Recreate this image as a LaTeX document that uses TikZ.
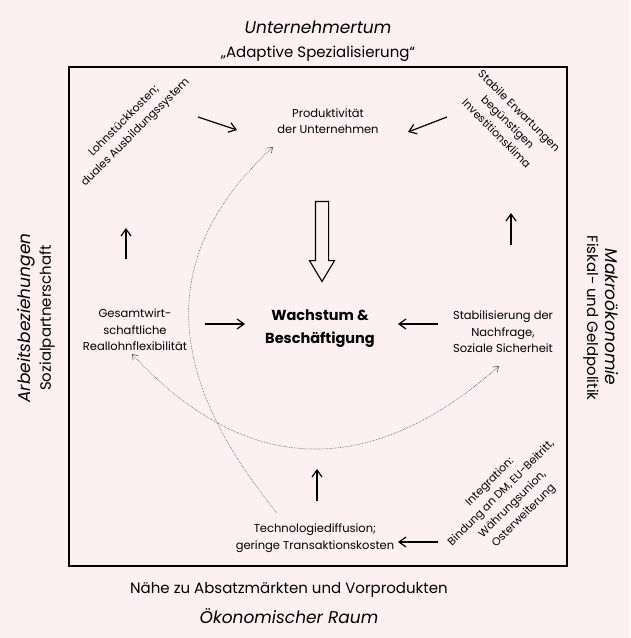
\documentclass[tikz,border=0pt]{standalone}
\usepackage{fontspec}
\setmainfont{Poppins}
\usetikzlibrary{arrows.meta, positioning, shapes.arrows, calc}
\definecolor{hintergrund}{HTML}{FCF0F3}
\definecolor{kurve}{HTML}{555555}

\begin{document}
\begin{tikzpicture}[x=1pt, y=-1pt,
        klein/.style={align=center, inner sep=1pt, font=\fontsize{11.5}{16.5}\selectfont},
        schraeg/.style={klein, font=\fontsize{11}{16}\selectfont},
        titel/.style={inner sep=0pt, font=\fontsize{17}{20}\selectfont\itshape},
        untertitel/.style={inner sep=0pt, font=\fontsize{15}{18}\selectfont},
        pfeil/.style={-{Straight Barb[length=7pt, width=10pt]}, line width=1.2pt},
        kreis/.style={kurve, densely dotted, line width=0.6pt},
        bigpfeil/.style={single arrow, draw, line width=1.1pt, shape border rotate=270,
            minimum height=80pt, inner sep=6pt, single arrow head extend=6pt,
            single arrow tip angle=62}
    ]
        \fill[hintergrund] (0,0) rectangle (630,638);
        \useasboundingbox (0,0) rectangle (630,638);
        \draw[line width=1.3pt] (69,67) rectangle (567,566);

        % Rahmenbeschriftung
        \node[titel] (oben) at (318,27) {Unternehmertum};
        \node[untertitel, below=12pt of oben] (obenb) {„Adaptive Spezialisierung“};
        \node[untertitel] (unten) at (289,590) {Nähe zu Absatzmärkten und Vorprodukten};
        \node[titel, below=11pt of unten] (untenb) {Ökonomischer Raum};
        \node[titel, rotate=90] (links) at (26,318) {Arbeitsbeziehungen};
        \node[untertitel, rotate=90] (linksb) at (47,318) {Sozialpartnerschaft};
        \node[titel, rotate=-90] (rechts) at (612,317) {Makroökonomie};
        \node[untertitel, rotate=-90] (rechtsb) at (591,318) {Fiskal- und Geldpolitik};

        % Innere Knoten
        \node[klein] (prod) at (328,121) {Produktivität\\der Unternehmen};
        \node[schraeg, rotate=45] (lohn) at (130,127) {Lohnstückkosten;\\duales Ausbildungssystem};
        \node[schraeg, rotate=-45] (stab) at (508,122) {Stabile Erwartungen\\begünstigen\\Investitionsklima};
        \node[klein] (gesamt) at (135,330) {Gesamtwirt-\\schaftliche\\Reallohnflexibilität};
        \node[klein, font=\fontsize{14.5}{23}\selectfont\bfseries] (wachs) at (320,329) {Wachstum \&\\Beschäftigung};
        \node[klein] (nachfrage) at (503,332) {Stabilisierung der\\Nachfrage,\\Soziale Sicherheit};
        \node[klein] (tech) at (315,538) {Technologiediffusion;\\geringe Transaktionskosten};
        \node[schraeg, rotate=45] (integ) at (507,499) {Integration:\\Bindung an DM, EU-Beitritt,\\Währungsunion,\\Osterweiterung};
        \node[bigpfeil] (dick) at (322,236) {};

        % Pfeile
        \draw[pfeil] ([shift={(68,-10)}]lohn.center) -- ([shift={(-91,9)}]prod.center);
        \draw[pfeil] ([shift={(-61,-5)}]stab.center) -- ([shift={(80,11)}]prod.center);
        \draw[pfeil] ([shift={(-9,-71)}]gesamt.center) -- ([shift={(-4,101)}]lohn.center);
        \draw[pfeil] ([shift={(8,-87)}]nachfrage.center) -- ([shift={(3,91)}]stab.center);
        \draw[pfeil] ([shift={(70,-6)}]gesamt.center) -- ([shift={(-75,-5)}]wachs.center);
        \draw[pfeil] ([shift={(-65,-8)}]nachfrage.center) -- ([shift={(78,-5)}]wachs.center);
        \draw[pfeil] ([shift={(2,-37)}]tech.center) -- ([shift={(-3,140)}]wachs.center);
        \draw[pfeil] ([shift={(-69,43)}]integ.center) -- ([shift={(83,4)}]tech.center);

        % gepunktete Rueckkopplungen
        \draw[kreis, {Straight Barb[length=5pt, width=7pt]}-{Straight Barb[length=5pt, width=7pt]}]
            ([shift={(-3,24)}]gesamt.center) .. controls +(125,135) and +(-115,102) .. ([shift={(-4,34)}]nachfrage.center);
        \draw[kreis, -{Straight Barb[length=5pt, width=7pt]}]
            ([shift={(-38,-25)}]tech.center) .. controls +(-91,-112) and +(-136,125) .. ([shift={(-55,26)}]prod.center);
    \end{tikzpicture}
\end{document}
